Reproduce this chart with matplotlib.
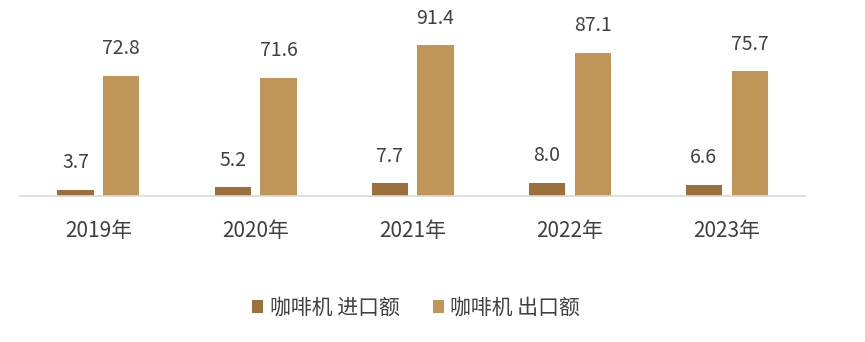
import numpy as np
from matplotlib import pyplot as plt

plt.rcParams['font.family'] = ['Noto Sans CJK SC', 'DejaVu Sans']

years = ['2019年', '2020年', '2021年', '2022年', '2023年']
imports = [3.7, 5.2, 7.7, 8.0, 6.6]
exports = [72.8, 71.6, 91.4, 87.1, 75.7]

c_imp = '#9B703B'
c_exp = '#BF9558'
txt = '#404040'

fig = plt.figure(figsize=(8.65, 3.42), dpi=100)
ax = fig.add_axes([0.023, 0.427, 0.908, 0.544])

x = np.arange(len(years))
w = 0.23
off = 0.146
b1 = ax.bar(x - off, imports, w, color=c_imp, label='咖啡机 进口额')
b2 = ax.bar(x + off, exports, w, color=c_exp, label='咖啡机 出口额')

for bars, vals in ((b1, imports), (b2, exports)):
    for r, v in zip(bars, vals):
        ax.annotate('%.1f' % v, (r.get_x() + r.get_width() / 2, v),
                    xytext=(0, 12), textcoords='offset points',
                    ha='center', va='bottom', fontsize=14, color=txt)

ax.set_xlim(-0.5, len(years) - 0.5)
ax.set_ylim(0, 113)
ax.set_xticks(x)
ax.set_xticklabels(years, fontsize=15, color=txt)
ax.tick_params(axis='x', length=0, pad=17)
ax.set_yticks([])
for s in ['top', 'right', 'left']:
    ax.spines[s].set_visible(False)
ax.spines['bottom'].set_color('#D9D9D9')
ax.spines['bottom'].set_linewidth(1.2)

leg = fig.legend(handles=[b1, b2], loc='center', bbox_to_anchor=(0.481, 0.1),
                 ncol=2, frameon=False, fontsize=15, handlelength=0.55,
                 handleheight=0.55, handletextpad=0.3, columnspacing=1.6)
for t in leg.get_texts():
    t.set_color(txt)

fig.savefig('out.png', dpi=100)
